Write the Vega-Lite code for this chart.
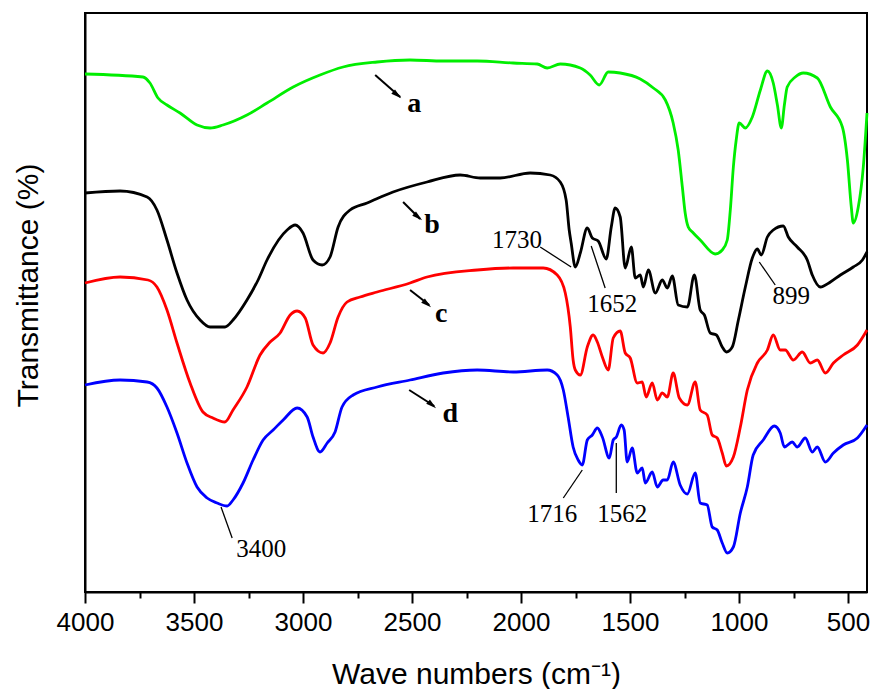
{
  "$schema": "https://vega.github.io/schema/vega-lite/v6.json",
  "width": 782,
  "height": 579,
  "autosize": {"type": "none"},
  "padding": {"left": 85, "top": 13, "right": 3, "bottom": 97},
  "background": "white",
  "config": {
    "view": {"stroke": "black", "strokeWidth": 2},
    "axis": {"grid": false, "domainColor": "black", "domainWidth": 2, "tickColor": "black", "tickWidth": 2, "labelColor": "black", "titleColor": "black", "labelFont": "Liberation Sans", "titleFont": "Liberation Sans", "titleFontWeight": "normal"}
  },
  "datasets": {
    "spectra": [
      {"s":"a","x":4000,"T":518},{"s":"a","x":3734,"T":515},{"s":"a","x":3702,"T":509},{"s":"a","x":3665,"T":494},{"s":"a","x":3624,"T":487},{"s":"a","x":3564,"T":479},{"s":"a","x":3486,"T":467},{"s":"a","x":3426,"T":464},{"s":"a","x":3367,"T":467},{"s":"a","x":3257,"T":477},{"s":"a","x":3165,"T":489},{"s":"a","x":3045,"T":505},{"s":"a","x":2922,"T":517},{"s":"a","x":2816,"T":525},{"s":"a","x":2660,"T":530},{"s":"a","x":2509,"T":532},{"s":"a","x":2357,"T":531},{"s":"a","x":2201,"T":531},{"s":"a","x":2036,"T":529},{"s":"a","x":1926,"T":528},{"s":"a","x":1880,"T":524},{"s":"a","x":1820,"T":528},{"s":"a","x":1728,"T":524},{"s":"a","x":1683,"T":517},{"s":"a","x":1641,"T":507},{"s":"a","x":1600,"T":520},{"s":"a","x":1545,"T":519},{"s":"a","x":1453,"T":513},{"s":"a","x":1393,"T":504},{"s":"a","x":1338,"T":492},{"s":"a","x":1302,"T":469},{"s":"a","x":1279,"T":442},{"s":"a","x":1260,"T":405},{"s":"a","x":1247,"T":379},{"s":"a","x":1233,"T":365},{"s":"a","x":1214,"T":360},{"s":"a","x":1178,"T":352},{"s":"a","x":1109,"T":338},{"s":"a","x":1077,"T":342},{"s":"a","x":1054,"T":352},{"s":"a","x":1040,"T":382},{"s":"a","x":1026,"T":425},{"s":"a","x":1013,"T":452},{"s":"a","x":999,"T":469},{"s":"a","x":971,"T":464},{"s":"a","x":939,"T":475},{"s":"a","x":902,"T":502},{"s":"a","x":870,"T":521},{"s":"a","x":843,"T":509},{"s":"a","x":824,"T":487},{"s":"a","x":806,"T":464},{"s":"a","x":792,"T":487},{"s":"a","x":779,"T":505},{"s":"a","x":742,"T":515},{"s":"a","x":705,"T":519},{"s":"a","x":641,"T":514},{"s":"a","x":581,"T":485},{"s":"a","x":526,"T":465},{"s":"a","x":503,"T":432},{"s":"a","x":485,"T":385},{"s":"a","x":476,"T":369},{"s":"a","x":453,"T":385},{"s":"a","x":430,"T":425},{"s":"a","x":413,"T":479},
      {"s":"b","x":4000,"T":399},{"s":"b","x":3839,"T":401},{"s":"b","x":3715,"T":395},{"s":"b","x":3670,"T":382},{"s":"b","x":3624,"T":352},{"s":"b","x":3578,"T":319},{"s":"b","x":3532,"T":292},{"s":"b","x":3472,"T":272},{"s":"b","x":3426,"T":265},{"s":"b","x":3358,"T":265},{"s":"b","x":3321,"T":272},{"s":"b","x":3257,"T":292},{"s":"b","x":3206,"T":312},{"s":"b","x":3165,"T":332},{"s":"b","x":3073,"T":362},{"s":"b","x":3036,"T":367},{"s":"b","x":3000,"T":359},{"s":"b","x":2954,"T":332},{"s":"b","x":2912,"T":327},{"s":"b","x":2876,"T":335},{"s":"b","x":2839,"T":365},{"s":"b","x":2784,"T":382},{"s":"b","x":2706,"T":389},{"s":"b","x":2587,"T":400},{"s":"b","x":2431,"T":410},{"s":"b","x":2279,"T":417},{"s":"b","x":2187,"T":414},{"s":"b","x":2096,"T":414},{"s":"b","x":1958,"T":419},{"s":"b","x":1866,"T":417},{"s":"b","x":1820,"T":410},{"s":"b","x":1793,"T":392},{"s":"b","x":1779,"T":362},{"s":"b","x":1770,"T":349},{"s":"b","x":1751,"T":325},{"s":"b","x":1728,"T":339},{"s":"b","x":1696,"T":364},{"s":"b","x":1673,"T":354},{"s":"b","x":1646,"T":351},{"s":"b","x":1609,"T":333},{"s":"b","x":1586,"T":365},{"s":"b","x":1568,"T":384},{"s":"b","x":1545,"T":375},{"s":"b","x":1522,"T":324},{"s":"b","x":1494,"T":345},{"s":"b","x":1476,"T":314},{"s":"b","x":1453,"T":317},{"s":"b","x":1439,"T":305},{"s":"b","x":1416,"T":322},{"s":"b","x":1384,"T":299},{"s":"b","x":1352,"T":312},{"s":"b","x":1329,"T":304},{"s":"b","x":1306,"T":316},{"s":"b","x":1279,"T":287},{"s":"b","x":1237,"T":285},{"s":"b","x":1205,"T":317},{"s":"b","x":1178,"T":282},{"s":"b","x":1159,"T":277},{"s":"b","x":1132,"T":259},{"s":"b","x":1104,"T":257},{"s":"b","x":1077,"T":245},{"s":"b","x":1058,"T":240},{"s":"b","x":1031,"T":245},{"s":"b","x":1003,"T":272},{"s":"b","x":971,"T":305},{"s":"b","x":939,"T":334},{"s":"b","x":916,"T":343},{"s":"b","x":898,"T":337},{"s":"b","x":870,"T":355},{"s":"b","x":843,"T":362},{"s":"b","x":797,"T":366},{"s":"b","x":774,"T":355},{"s":"b","x":733,"T":345},{"s":"b","x":687,"T":332},{"s":"b","x":664,"T":317},{"s":"b","x":627,"T":305},{"s":"b","x":581,"T":310},{"s":"b","x":535,"T":317},{"s":"b","x":476,"T":325},{"s":"b","x":434,"T":332},{"s":"b","x":413,"T":340},
      {"s":"c","x":4000,"T":309},{"s":"c","x":3839,"T":315},{"s":"c","x":3711,"T":312},{"s":"c","x":3670,"T":305},{"s":"c","x":3624,"T":282},{"s":"c","x":3578,"T":249},{"s":"c","x":3518,"T":209},{"s":"c","x":3459,"T":180},{"s":"c","x":3413,"T":174},{"s":"c","x":3358,"T":170},{"s":"c","x":3321,"T":182},{"s":"c","x":3257,"T":205},{"s":"c","x":3197,"T":237},{"s":"c","x":3151,"T":250},{"s":"c","x":3105,"T":259},{"s":"c","x":3059,"T":277},{"s":"c","x":3027,"T":281},{"s":"c","x":2990,"T":274},{"s":"c","x":2954,"T":247},{"s":"c","x":2908,"T":239},{"s":"c","x":2876,"T":249},{"s":"c","x":2839,"T":275},{"s":"c","x":2798,"T":290},{"s":"c","x":2738,"T":295},{"s":"c","x":2660,"T":300},{"s":"c","x":2509,"T":309},{"s":"c","x":2431,"T":315},{"s":"c","x":2201,"T":322},{"s":"c","x":2036,"T":324},{"s":"c","x":1898,"T":324},{"s":"c","x":1834,"T":317},{"s":"c","x":1797,"T":299},{"s":"c","x":1774,"T":265},{"s":"c","x":1761,"T":232},{"s":"c","x":1751,"T":222},{"s":"c","x":1728,"T":217},{"s":"c","x":1696,"T":245},{"s":"c","x":1669,"T":257},{"s":"c","x":1650,"T":250},{"s":"c","x":1627,"T":235},{"s":"c","x":1600,"T":222},{"s":"c","x":1577,"T":254},{"s":"c","x":1545,"T":261},{"s":"c","x":1522,"T":239},{"s":"c","x":1499,"T":234},{"s":"c","x":1467,"T":209},{"s":"c","x":1444,"T":210},{"s":"c","x":1426,"T":195},{"s":"c","x":1398,"T":209},{"s":"c","x":1375,"T":192},{"s":"c","x":1352,"T":199},{"s":"c","x":1329,"T":195},{"s":"c","x":1302,"T":219},{"s":"c","x":1274,"T":194},{"s":"c","x":1237,"T":187},{"s":"c","x":1201,"T":210},{"s":"c","x":1178,"T":182},{"s":"c","x":1146,"T":177},{"s":"c","x":1123,"T":157},{"s":"c","x":1100,"T":154},{"s":"c","x":1077,"T":139},{"s":"c","x":1058,"T":126},{"s":"c","x":1026,"T":135},{"s":"c","x":994,"T":165},{"s":"c","x":962,"T":202},{"s":"c","x":916,"T":229},{"s":"c","x":870,"T":242},{"s":"c","x":843,"T":257},{"s":"c","x":811,"T":242},{"s":"c","x":788,"T":242},{"s":"c","x":751,"T":232},{"s":"c","x":710,"T":240},{"s":"c","x":673,"T":229},{"s":"c","x":641,"T":232},{"s":"c","x":604,"T":219},{"s":"c","x":567,"T":229},{"s":"c","x":522,"T":237},{"s":"c","x":457,"T":247},{"s":"c","x":413,"T":262},
      {"s":"d","x":4000,"T":207},{"s":"d","x":3839,"T":212},{"s":"d","x":3715,"T":210},{"s":"d","x":3670,"T":204},{"s":"d","x":3624,"T":185},{"s":"d","x":3578,"T":159},{"s":"d","x":3532,"T":129},{"s":"d","x":3486,"T":105},{"s":"d","x":3440,"T":94},{"s":"d","x":3394,"T":89},{"s":"d","x":3348,"T":86},{"s":"d","x":3321,"T":92},{"s":"d","x":3275,"T":109},{"s":"d","x":3229,"T":132},{"s":"d","x":3183,"T":152},{"s":"d","x":3137,"T":162},{"s":"d","x":3091,"T":172},{"s":"d","x":3027,"T":184},{"s":"d","x":2981,"T":175},{"s":"d","x":2954,"T":155},{"s":"d","x":2922,"T":140},{"s":"d","x":2889,"T":149},{"s":"d","x":2853,"T":160},{"s":"d","x":2821,"T":185},{"s":"d","x":2770,"T":197},{"s":"d","x":2660,"T":205},{"s":"d","x":2509,"T":212},{"s":"d","x":2357,"T":219},{"s":"d","x":2201,"T":222},{"s":"d","x":2036,"T":220},{"s":"d","x":1880,"T":222},{"s":"d","x":1834,"T":217},{"s":"d","x":1806,"T":202},{"s":"d","x":1784,"T":175},{"s":"d","x":1761,"T":145},{"s":"d","x":1738,"T":132},{"s":"d","x":1719,"T":127},{"s":"d","x":1696,"T":152},{"s":"d","x":1673,"T":157},{"s":"d","x":1650,"T":164},{"s":"d","x":1627,"T":155},{"s":"d","x":1595,"T":134},{"s":"d","x":1577,"T":152},{"s":"d","x":1563,"T":155},{"s":"d","x":1540,"T":167},{"s":"d","x":1527,"T":162},{"s":"d","x":1513,"T":130},{"s":"d","x":1490,"T":144},{"s":"d","x":1467,"T":119},{"s":"d","x":1444,"T":124},{"s":"d","x":1430,"T":109},{"s":"d","x":1398,"T":120},{"s":"d","x":1375,"T":105},{"s":"d","x":1348,"T":112},{"s":"d","x":1329,"T":112},{"s":"d","x":1302,"T":130},{"s":"d","x":1270,"T":107},{"s":"d","x":1237,"T":98},{"s":"d","x":1201,"T":119},{"s":"d","x":1178,"T":89},{"s":"d","x":1146,"T":87},{"s":"d","x":1123,"T":65},{"s":"d","x":1100,"T":62},{"s":"d","x":1077,"T":49},{"s":"d","x":1054,"T":39},{"s":"d","x":1026,"T":45},{"s":"d","x":994,"T":79},{"s":"d","x":962,"T":105},{"s":"d","x":935,"T":137},{"s":"d","x":889,"T":152},{"s":"d","x":838,"T":166},{"s":"d","x":811,"T":159},{"s":"d","x":792,"T":145},{"s":"d","x":756,"T":150},{"s":"d","x":733,"T":145},{"s":"d","x":696,"T":154},{"s":"d","x":664,"T":140},{"s":"d","x":641,"T":145},{"s":"d","x":604,"T":130},{"s":"d","x":567,"T":139},{"s":"d","x":522,"T":147},{"s":"d","x":457,"T":154},{"s":"d","x":413,"T":167}
    ],
    "letters": [
      {"x":2490,"T":480,"label":"a"},{"x":2408,"T":359,"label":"b"},{"x":2366,"T":270,"label":"c"},{"x":2325,"T":170,"label":"d"}
    ],
    "numbers": [
      {"x":3192,"T":35,"label":"3400"},{"x":2018,"T":344,"label":"1730"},{"x":1582,"T":280,"label":"1652"},{"x":760,"T":288,"label":"899"},{"x":1857,"T":70,"label":"1716"},{"x":1536,"T":70,"label":"1562"}
    ],
    "leaders": [
      {"x":3376,"T":85,"x2":3325,"T2":54},{"x":1912,"T":345,"x2":1770,"T2":325},{"x":1678,"T":346,"x2":1614,"T2":304},{"x":907,"T":330,"x2":834,"T2":307},{"x":1719,"T":122,"x2":1806,"T2":94},{"x":1563,"T":149,"x2":1563,"T2":99}
    ],
    "shafts": [
      {"x":2669,"T":517,"x2":2554,"T2":495},{"x":2541,"T":390,"x2":2463,"T2":373},{"x":2509,"T":302,"x2":2421,"T2":287},{"x":2513,"T":202,"x2":2398,"T2":186}
    ],
    "heads": [
      {"x":2568,"T":497},{"x":2472,"T":375},{"x":2431,"T":288},{"x":2408,"T":187}
    ]
  },
  "layer": [
    {
      "data": {"name": "spectra"},
      "mark": {"type": "line", "strokeWidth": 2.8, "strokeJoin": "round", "interpolate": "monotone"},
      "encoding": {
        "x": {"field": "x", "type": "quantitative", "scale": {"domain": [413, 4000], "reverse": true, "nice": false, "zero": false},
          "axis": {"values": [4000, 3750, 3500, 3250, 3000, 2750, 2500, 2250, 2000, 1750, 1500, 1250, 1000, 750, 500], "format": "d",
            "labelExpr": "datum.value % 500 === 0 ? datum.label : ''",
            "tickSize": {"condition": {"test": "datum.value % 500 === 0", "value": 11}, "value": 6},
            "labelFontSize": 26, "labelPadding": 6, "labelOverlap": false, "labelFlush": false, "title": "Wave numbers (cm⁻¹)", "titleFontSize": 30, "titlePadding": 24}},
        "y": {"field": "T", "type": "quantitative", "scale": {"domain": [0, 579], "nice": false, "zero": false},
          "axis": {"ticks": false, "labels": false, "title": "Transmittance (%)", "titleFontSize": 30, "titleAngle": 270, "titleBaseline": "alphabetic", "titleAlign": "center", "titleX": -48, "titleY": 272}},
        "color": {"field": "s", "type": "nominal", "scale": {"domain": ["a", "b", "c", "d"], "range": ["#00ee00", "#000000", "#ff0000", "#0000ff"]}, "legend": null}
      }
    },
    {
      "data": {"name": "leaders"},
      "mark": {"type": "rule", "color": "black", "strokeWidth": 1.3},
      "encoding": {
        "x": {"field": "x", "type": "quantitative", "axis": null},
        "x2": {"field": "x2"},
        "y": {"field": "T", "type": "quantitative", "axis": null},
        "y2": {"field": "T2"}
      }
    },
    {
      "data": {"name": "shafts"},
      "mark": {"type": "rule", "color": "black", "strokeWidth": 2},
      "encoding": {
        "x": {"field": "x", "type": "quantitative", "axis": null},
        "x2": {"field": "x2"},
        "y": {"field": "T", "type": "quantitative", "axis": null},
        "y2": {"field": "T2"}
      }
    },
    {
      "data": {"name": "heads"},
      "mark": {"type": "point", "shape": "M0,-1L0.55,1L-0.55,1Z", "filled": true, "color": "black", "opacity": 1, "size": 110, "angle": 130},
      "encoding": {
        "x": {"field": "x", "type": "quantitative", "axis": null},
        "y": {"field": "T", "type": "quantitative", "axis": null}
      }
    },
    {
      "data": {"name": "letters"},
      "mark": {"type": "text", "font": "Liberation Serif", "fontWeight": "bold", "fontSize": 28, "color": "black", "align": "center", "baseline": "alphabetic"},
      "encoding": {
        "x": {"field": "x", "type": "quantitative", "axis": null},
        "y": {"field": "T", "type": "quantitative", "axis": null},
        "text": {"field": "label"}
      }
    },
    {
      "data": {"name": "numbers"},
      "mark": {"type": "text", "font": "Liberation Serif", "fontSize": 25, "color": "black", "align": "center", "baseline": "alphabetic"},
      "encoding": {
        "x": {"field": "x", "type": "quantitative", "axis": null},
        "y": {"field": "T", "type": "quantitative", "axis": null},
        "text": {"field": "label"}
      }
    }
  ],
  "resolve": {"axis": {"x": "independent", "y": "independent"}}
}
